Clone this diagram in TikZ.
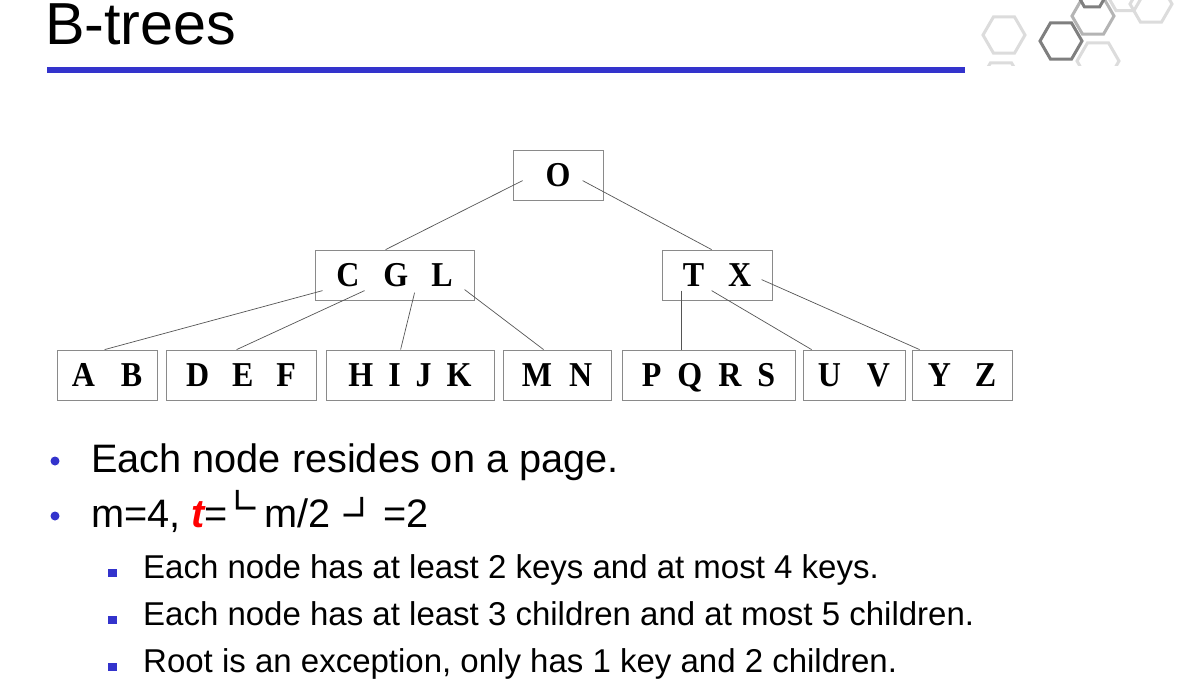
\documentclass[tikz,border=0pt]{standalone}
\usepackage{fontspec}
\setmainfont{Liberation Sans}
\newfontfamily\tnr{Liberation Serif}
\newfontfamily\dejavu{DejaVu Sans}
\usetikzlibrary{calc}
\definecolor{bblue}{HTML}{3333CC}
\definecolor{boxgray}{HTML}{8A8A8A}
\definecolor{linegray}{HTML}{555555}
\definecolor{hexlight}{HTML}{DCDCDC}
\definecolor{hexmid}{HTML}{B4B4B4}
\definecolor{hexdark}{HTML}{7F7F7F}
\newcommand\hexa[4]{\draw[#4] (#1,#2) +(0:#3) -- +(60:#3) -- +(120:#3) -- +(180:#3) -- +(240:#3) -- +(300:#3) -- cycle;}
\newcommand\stretchk[1]{\scalebox{1}[1.09]{#1}}
\newcommand\fl[2]{\makebox[0pt][l]{\raisebox{#1}{\dejavu\fontsize{35}{35}\selectfont #2}}}
\begin{document}
\begin{tikzpicture}[x=1pt,y=-1pt,
  kbox/.style={draw=boxgray, line width=0.8pt, minimum height=50pt, inner sep=0pt,
    text height=23pt, text depth=0pt, font=\tnr\bfseries\fontsize{32}{32}\selectfont},
  conn/.style={draw=linegray, line width=0.7pt},
  txt/.style={anchor=base west, inner sep=0pt},
  big/.style={txt, font=\fontsize{39.7}{39.7}\selectfont},
  small/.style={txt, font=\fontsize{33}{33}\selectfont},
  dot/.style={circle, fill=bblue, inner sep=0pt, minimum size=9pt},
  sq/.style={rectangle, fill=bblue, inner sep=0pt, minimum size=8.5pt}]
\useasboundingbox (0,0) rectangle (1179,691);
\fill[white] (0,0) rectangle (1179,691);

% decoration hexagons
\begin{scope}
\clip (975,0) rectangle (1179,65);
\hexa{1004}{35}{21}{hexlight, line width=3pt}
\hexa{1001}{81}{21}{hexlight, line width=3pt}
\hexa{1098}{61}{21}{hexlight, line width=3pt}
\hexa{1125}{-5}{18}{hexlight, line width=3pt}
\hexa{1151}{4}{21}{hexlight, line width=3pt}
\hexa{1093}{16}{21}{hexmid, line width=3pt}
\hexa{1092}{-6}{15}{hexdark, line width=3pt}
\hexa{1061}{41}{21}{hexdark, line width=3pt}
\end{scope}

% title
\node[txt, font=\fontsize{59.3}{59.3}\selectfont] (title) at (45,44) {B-trees};
\fill[bblue] (47,67) rectangle (965,73);

% tree
\node[kbox, minimum width=90pt]  (O)    at (558,175)   {\stretchk{O}};
\node[kbox, minimum width=159pt] (CGL)  at (394.5,275) {\stretchk{C\hspace{24pt}G\hspace{23pt}L}};
\node[kbox, minimum width=110pt] (TX)   at (717,275)   {\stretchk{T\hspace{24pt}X}};
\node[kbox, minimum width=100pt] (AB)   at (107,375)   {\stretchk{A\hspace{26pt}B}};
\node[kbox, minimum width=150pt] (DEF)  at (241,375)   {\stretchk{D\hspace{23pt}E\hspace{23pt}F}};
\node[kbox, minimum width=168pt] (HIJK) at (410,375)   {\stretchk{H\hspace{15pt}I\hspace{15pt}J\hspace{15pt}K}};
\node[kbox, minimum width=108pt] (MN)   at (557,375)   {\stretchk{M\hspace{17pt}N}};
\node[kbox, minimum width=173pt] (PQRS) at (708.5,375) {\stretchk{P\hspace{16pt}Q\hspace{16pt}R\hspace{16pt}S}};
\node[kbox, minimum width=102pt] (UV)   at (854,375)   {\stretchk{U\hspace{26pt}V}};
\node[kbox, minimum width=100pt] (YZ)   at (962,375)   {\stretchk{Y\hspace{24pt}Z}};

\draw[conn] ($(O.north west)+(10,31)$) -- ($(CGL.north west)+(71,0)$);
\draw[conn] ($(O.north west)+(70,31)$) -- ($(TX.north west)+(50,0)$);
\draw[conn] ($(CGL.north west)+(8,41)$) -- ($(AB.north west)+(48,0)$);
\draw[conn] ($(CGL.north west)+(50,41)$) -- ($(DEF.north west)+(71,0)$);
\draw[conn] ($(CGL.north west)+(100,43)$) -- ($(HIJK.north west)+(75,0)$);
\draw[conn] ($(CGL.north west)+(150,40)$) -- ($(MN.north west)+(41,0)$);
\draw[conn] ($(TX.north west)+(20,41)$) -- ($(PQRS.north west)+(60,0)$);
\draw[conn] ($(TX.north west)+(50,41)$) -- ($(UV.north west)+(9,0)$);
\draw[conn] ($(TX.north west)+(100,30)$) -- ($(YZ.north west)+(8,0)$);

% bullets
\node[dot] (b1) at (55,461) {};
\node[big] (l1) at (91,472) {Each node resides on a page.};
\node[dot] (b2) at (55,516) {};
\node[big] (l2) at (91,527) {m=4,\ {\color{red}\bfseries\itshape t}=\hspace{3.2pt}\fl{14pt}{∟}\hspace{33.4pt}m/2\hspace{8.7pt}\fl{7pt}{\reflectbox{∟}}\hspace{44.2pt}=2};

\node[sq] (s1) at (112.5,573) {};
\node[small] (l3) at (143,578) {Each node has at least 2 keys and at most 4 keys.};
\node[sq] (s2) at (112.5,620) {};
\node[small] (l4) at (143,625) {Each node has at least 3 children and at most 5 children.};
\node[sq] (s3) at (112.5,667) {};
\node[small] (l5) at (143,672) {Root is an exception, only has 1 key and 2 children.};
\end{tikzpicture}
\end{document}
